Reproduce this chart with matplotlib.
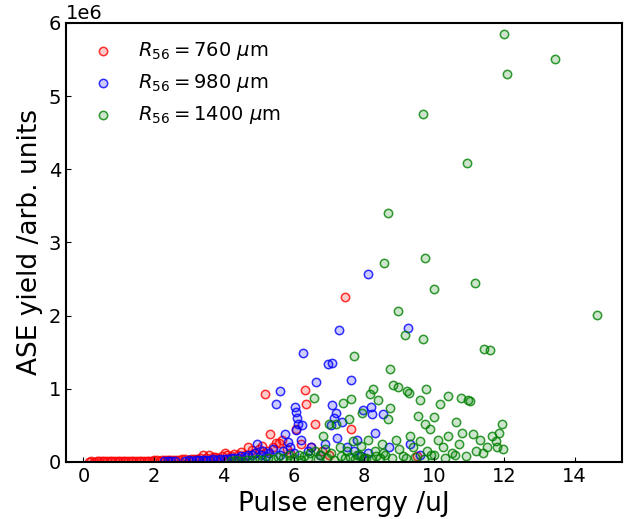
import matplotlib
matplotlib.use('Agg')
import matplotlib.pyplot as plt

# pulse energy (uJ) and ASE yield (1e6 arb. units)
red_E = [0.15, 0.22, 0.3, 0.38, 0.45, 0.52, 0.6, 0.68, 0.75, 0.82, 0.9, 0.98, 1.05, 1.12, 1.2, 1.28,
         1.35, 1.42, 1.5, 1.58, 1.65, 1.72, 1.8, 1.88, 1.95, 2.02, 2.1, 2.18, 2.25, 2.33, 2.4, 2.48,
         2.56, 2.65, 2.72, 2.8, 2.9, 3.0, 3.08, 3.15, 3.25, 3.33, 3.4, 3.5, 3.59, 3.68, 3.75, 3.85,
         3.95, 4.05, 4.1, 4.2, 4.3, 4.4, 4.5, 4.6, 4.7, 4.8, 4.9, 5.0, 5.1, 5.17, 5.25, 5.33, 5.4,
         5.5, 5.57, 5.65, 5.8, 5.9, 6.06, 6.2, 6.33, 6.35, 6.5, 6.6, 6.8, 7.0, 7.46, 7.63, 8.0, 9.5]
red_Y = [0.004, 0.006, 0.005, 0.007, 0.006, 0.008, 0.007, 0.009, 0.008, 0.010, 0.009, 0.011, 0.012,
         0.010, 0.013, 0.012, 0.014, 0.015, 0.013, 0.016, 0.017, 0.015, 0.018, 0.019, 0.017, 0.020,
         0.022, 0.019, 0.024, 0.021, 0.026, 0.023, 0.028, 0.030, 0.027, 0.033, 0.036, 0.031, 0.040,
         0.045, 0.038, 0.050, 0.10, 0.055, 0.10, 0.062, 0.07, 0.058, 0.08, 0.12, 0.09, 0.075, 0.11,
         0.095, 0.14, 0.10, 0.21, 0.16, 0.12, 0.18, 0.22, 0.93, 0.15, 0.38, 0.20, 0.26, 0.26, 0.30,
         0.18, 0.12, 0.45, 0.25, 0.98, 0.79, 0.20, 0.52, 0.15, 0.10, 2.26, 0.45, 0.05, 0.08]

blue_E = [2.3, 2.4, 2.5, 2.6, 2.9, 3.0, 3.1, 3.2, 3.3, 3.4, 3.5, 3.6, 3.7, 3.8, 3.9, 4.0, 4.1, 4.2,
          4.3, 4.4, 4.5, 4.6, 4.7, 4.8, 4.9, 4.95, 5.05, 5.13, 5.2, 5.3, 5.4, 5.49, 5.59, 5.6, 5.7,
          5.76, 5.83, 5.9, 6.0, 6.02, 6.05, 6.07, 6.09, 6.13, 6.2, 6.24, 6.25, 6.4, 6.5, 6.64, 6.75,
          6.9, 6.97, 7.06, 7.08, 7.09, 7.13, 7.19, 7.23, 7.28, 7.37, 7.5, 7.63, 7.7, 7.8, 7.9, 7.98,
          8.1, 8.11, 8.2, 8.23, 8.3, 8.55, 8.7, 9.24, 9.3, 9.6]
blue_Y = [0.010, 0.008, 0.012, 0.010, 0.015, 0.020, 0.018, 0.022, 0.020, 0.025, 0.030, 0.028, 0.035,
          0.030, 0.040, 0.045, 0.038, 0.050, 0.060, 0.055, 0.080, 0.070, 0.10, 0.09, 0.12, 0.25, 0.10,
          0.15, 0.08, 0.12, 0.18, 0.79, 0.97, 0.10, 0.15, 0.38, 0.27, 0.20, 0.12, 0.75, 0.44, 0.68,
          0.60, 0.52, 0.30, 0.50, 1.49, 0.15, 0.20, 1.09, 0.10, 0.25, 1.34, 0.51, 1.35, 0.78, 0.60,
          0.67, 0.33, 1.80, 0.54, 0.20, 1.12, 0.15, 0.30, 0.08, 0.71, 0.12, 2.57, 0.75, 0.66, 0.40,
          0.66, 0.20, 1.83, 0.25, 0.10]

green_E = [4.2, 4.35, 4.5, 4.65, 4.8, 4.95, 5.1, 5.25, 5.4, 5.55, 5.7, 5.85, 5.9, 6.0, 6.15, 6.2,
           6.3, 6.4, 6.45, 6.58, 6.6, 6.7, 6.75, 6.82, 6.9, 6.95, 6.99, 7.05, 7.15, 7.2, 7.3, 7.35,
           7.41, 7.45, 7.5, 7.56, 7.6, 7.63, 7.68, 7.71, 7.75, 7.8, 7.85, 7.9, 7.95, 8.0, 8.05, 8.1,
           8.17, 8.2, 8.25, 8.3, 8.35, 8.41, 8.45, 8.5, 8.55, 8.56, 8.6, 8.67, 8.68, 8.74, 8.75, 8.8,
           8.83, 8.9, 8.96, 8.97, 9.0, 9.1, 9.16, 9.2, 9.23, 9.27, 9.3, 9.4, 9.45, 9.55, 9.58, 9.6,
           9.67, 9.68, 9.7, 9.73, 9.74, 9.77, 9.8, 9.87, 9.9, 9.99, 9.99, 10.0, 10.1, 10.15, 10.25,
           10.3, 10.39, 10.4, 10.5, 10.6, 10.63, 10.7, 10.76, 10.8, 10.9, 10.92, 10.96, 11.03, 11.1,
           11.16, 11.2, 11.3, 11.4, 11.43, 11.5, 11.6, 11.65, 11.75, 11.8, 11.85, 11.93, 11.95, 12.0,
           12.07, 13.44, 14.64]
green_Y = [0.010, 0.020, 0.015, 0.030, 0.020, 0.040, 0.030, 0.050, 0.040, 0.070, 0.050, 0.090, 0.020,
           0.060, 0.10, 0.030, 0.080, 0.050, 0.12, 0.88, 0.15, 0.040, 0.10, 0.36, 0.18, 0.060, 0.52,
           0.12, 0.030, 0.52, 0.20, 0.080, 0.81, 0.050, 0.15, 0.59, 0.070, 0.86, 0.28, 1.45, 0.040,
           0.10, 0.090, 0.22, 0.67, 0.050, 0.060, 0.30, 0.93, 0.040, 0.99, 0.15, 0.080, 0.84, 0.050,
           0.25, 0.12, 2.72, 0.10, 3.40, 0.59, 1.27, 0.73, 0.060, 1.05, 0.30, 2.06, 1.02, 0.18, 0.080,
           1.74, 0.050, 0.97, 0.94, 0.35, 0.20, 0.070, 0.63, 0.84, 0.28, 4.75, 1.68, 0.040, 0.52, 2.79,
           1.00, 0.15, 0.45, 0.090, 0.61, 2.36, 0.10, 0.30, 0.79, 0.20, 0.060, 0.90, 0.35, 0.12, 0.10,
           0.55, 0.25, 0.87, 0.40, 0.080, 4.09, 0.84, 0.83, 0.38, 2.45, 0.15, 0.30, 0.12, 1.54, 0.20,
           1.53, 0.35, 0.28, 0.20, 0.40, 0.52, 0.18, 5.85, 5.30, 5.50, 2.01]

fig = plt.figure(figsize=(6.27, 5.19), dpi=100)
ax = fig.add_axes([0.105, 0.110, 0.887, 0.846])

for E, Y, c, lab in [(red_E, red_Y, 'r', r'$R_{56} = 760\ \mu$m'),
                     (blue_E, blue_Y, 'b', r'$R_{56} = 980\ \mu$m'),
                     (green_E, green_Y, 'g', r'$R_{56} = 1400\ \mu$m')]:
    ax.scatter(E, [y * 1e6 for y in Y], s=36, facecolors=matplotlib.colors.to_rgba(c, 0.2),
               edgecolors=matplotlib.colors.to_rgba(c, 0.8), linewidths=1.1, label=lab)

ax.set_xlim(-0.5, 15.35)
ax.set_ylim(0, 6e6)
ax.tick_params(direction='in', labelsize=14)
for sp in ax.spines.values():
    sp.set_linewidth(1.5)
ax.set_xlabel('Pulse energy /uJ', fontsize=19)
ax.set_ylabel('ASE yield /arb. units', fontsize=19)
ax.yaxis.get_offset_text().set_fontsize(14)
ax.legend(loc='upper left', frameon=False, fontsize=14, handletextpad=0.8, borderaxespad=0.5)

fig.savefig('out.png', dpi=100)
